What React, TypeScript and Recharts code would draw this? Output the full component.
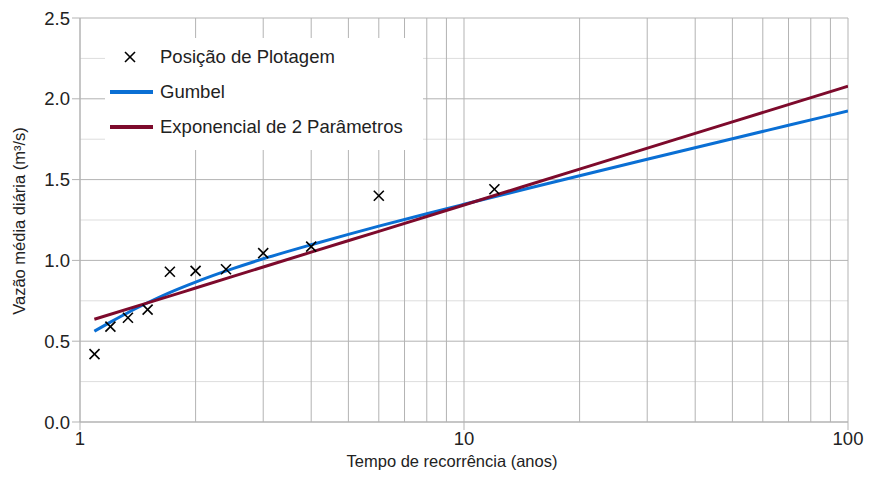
import React from "react";
import {
  ComposedChart,
  CartesianGrid,
  XAxis,
  YAxis,
  Scatter,
  Line,
} from "recharts";

// Posição de plotagem (Weibull): tempo de recorrência x vazão
const plotT = [12, 6, 4, 3, 2.4, 2, 1.714, 1.5, 1.333, 1.2, 1.091];
const plotQ = [1.44, 1.4, 1.085, 1.045, 0.945, 0.935, 0.93, 0.695, 0.645, 0.59, 0.42];

// Curva de Gumbel
const gumbelT = [1.09, 1.2, 1.35, 1.5, 1.7, 2, 2.5, 3, 4, 5, 6, 8, 10, 15, 20, 30, 50, 70, 100];
const gumbelQ = [0.562, 0.618, 0.684, 0.738, 0.798, 0.866, 0.949, 1.01, 1.097, 1.161, 1.212, 1.289, 1.347, 1.451, 1.524, 1.626, 1.753, 1.836, 1.924];

// Exponencial de 2 parâmetros
const expT = [1.09, 1.5, 2, 3, 4, 6, 10, 20, 50, 100];
const expQ = [0.636, 0.737, 0.829, 0.959, 1.051, 1.18, 1.343, 1.565, 1.857, 2.078];

const xTicks = [1, 10, 100];
const xGrid = [1, 2, 3, 4, 5, 6, 7, 8, 9, 10, 20, 30, 40, 50, 60, 70, 80, 90, 100];
const yTicks = [0, 0.5, 1, 1.5, 2, 2.5];
const yMinor = [0.25, 0.75, 1.25, 1.75, 2.25];

const plotData = plotT.map((t, i) => ({ t, q: plotQ[i] }));
const gumbelData = gumbelT.map((t, i) => ({ t, q: gumbelQ[i] }));
const expData = expT.map((t, i) => ({ t, q: expQ[i] }));

const FONT = "'Liberation Sans', Arial, sans-serif";
const BLUE = "#0a6fd4";
const RED = "#7d0a2c";
const GRID = "#b3b3b3";
const GRID_MINOR = "#dddddd";
const TEXT = "#222";

const Cross = (props: any) => {
  const { cx, cy } = props;
  if (cx == null || cy == null) return null;
  const s = 5;
  return (
    <g stroke="#000" strokeWidth={1.6}>
      <line x1={cx - s} y1={cy - s} x2={cx + s} y2={cy + s} />
      <line x1={cx - s} y1={cy + s} x2={cx + s} y2={cy - s} />
    </g>
  );
};

const legendItems = [
  { label: "Posição de Plotagem", kind: "x" },
  { label: "Gumbel", kind: BLUE },
  { label: "Exponencial de 2 Parâmetros", kind: RED },
];

export default function App() {
  return (
    <div style={{ position: "relative", width: 864, height: 473, fontFamily: FONT }}>
      <ComposedChart
        width={864}
        height={473}
        margin={{ top: 10, right: 24, left: 0, bottom: 0 }}
      >
        <CartesianGrid
          stroke={GRID_MINOR}
          vertical={false}
          horizontalCoordinatesGenerator={({ offset }: any) =>
            yMinor.map((v) => offset.top + offset.height * (1 - v / 2.5))
          }
        />
        <CartesianGrid
          stroke={GRID}
          horizontalCoordinatesGenerator={({ offset }: any) =>
            yTicks.map((v) => offset.top + offset.height * (1 - v / 2.5))
          }
          verticalCoordinatesGenerator={({ offset }: any) =>
            xGrid.map((v) => offset.left + (offset.width * Math.log10(v)) / 2)
          }
        />
        <XAxis
          type="number"
          dataKey="t"
          scale="log"
          domain={[1, 100]}
          ticks={xTicks}
          allowDataOverflow
          height={59}
          stroke={GRID}
          tickSize={8}
          tick={{ fill: TEXT, fontSize: 18.5, fontFamily: FONT }}
          label={{
            content: () => (
              <text
                x={444}
                y={459}
                textAnchor="middle"
                fontSize={16.5}
                fontFamily={FONT}
                fill={TEXT}
              >
                Tempo de recorrência (anos)
              </text>
            ),
          }}
        />
        <YAxis
          type="number"
          dataKey="q"
          domain={[0, 2.5]}
          ticks={yTicks}
          width={72}
          stroke={GRID}
          tickSize={8}
          tickFormatter={(v: number) => v.toFixed(1)}
          tick={{ fill: TEXT, fontSize: 18.5, fontFamily: FONT }}
          label={{
            content: () => (
              <text
                x={0}
                y={0}
                transform="translate(11 213) rotate(-90)"
                textAnchor="middle"
                dominantBaseline="central"
                fontSize={16.5}
                fontFamily={FONT}
                fill={TEXT}
              >
                Vazão média diária (m³/s)
              </text>
            ),
          }}
        />
        <Line
          data={gumbelData}
          dataKey="q"
          type="monotone"
          stroke={BLUE}
          strokeWidth={3}
          dot={false}
          isAnimationActive={false}
        />
        <Line
          data={expData}
          dataKey="q"
          type="monotone"
          stroke={RED}
          strokeWidth={3}
          dot={false}
          isAnimationActive={false}
        />
        <Scatter
          data={plotData}
          dataKey="q"
          shape={<Cross />}
          isAnimationActive={false}
        />
      </ComposedChart>
      <div
        style={{
          position: "absolute",
          left: 97,
          top: 30,
          width: 318,
          height: 112,
          background: "#fff",
          fontSize: 18.5,
          color: TEXT,
        }}
      >
        {legendItems.map((e, i) => (
          <div
            key={e.label}
            style={{
              position: "absolute",
              left: 0,
              top: 7 + i * 35,
              height: 24,
              display: "flex",
              alignItems: "center",
              whiteSpace: "nowrap",
            }}
          >
            <svg width={55} height={24} style={{ display: "block" }}>
              {e.kind === "x" ? (
                <g stroke="#000" strokeWidth={1.6}>
                  <line x1={20} y1={7} x2={30} y2={17} />
                  <line x1={20} y1={17} x2={30} y2={7} />
                </g>
              ) : (
                <line x1={5} y1={12} x2={48} y2={12} stroke={e.kind} strokeWidth={4} />
              )}
            </svg>
            <span>{e.label}</span>
          </div>
        ))}
      </div>
    </div>
  );
}
